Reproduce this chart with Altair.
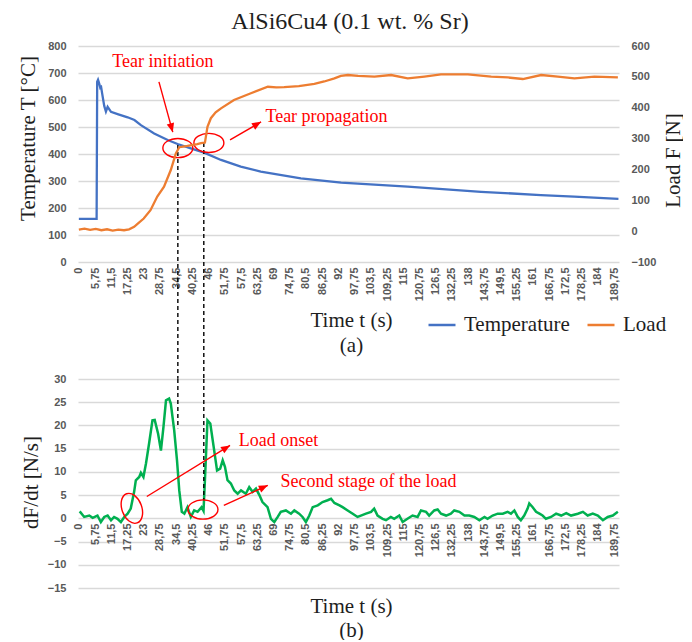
import math
import altair as alt
import pandas as pd

# ---------------- data ----------------
title_text = "AlSi6Cu4 (0.1 wt. % Sr)"

x_tick_values = [0, 5.75, 11.5, 17.25, 23, 28.75, 34.5, 40.25, 46, 51.75, 57.5,
                 63.25, 69, 74.75, 80.5, 86.25, 92, 97.75, 103.5, 109.25, 115,
                 120.75, 126.5, 132.25, 138, 143.75, 149.5, 155.25, 161, 166.75,
                 172.5, 178.25, 184, 189.75]
temp_ticks = [0, 100, 200, 300, 400, 500, 600, 700, 800]
load_ticks = [-100, 0, 100, 200, 300, 400, 500, 600]
dfdt_ticks = [-15, -10, -5, 0, 5, 10, 15, 20, 25, 30]

series_names = ["Temperature", "Load"]

temp_t = [0, 6.3, 6.5, 6.8, 7.2, 7.6, 7.9, 8.3, 9.0, 9.6, 10.2, 11.4, 14.0, 17.3,
          19.7, 22.0, 26.7, 31.5, 35.0, 39.7, 44.4, 50.4, 57.4, 64.5, 78.7, 93.0,
          116.6, 142.6, 163.8, 175.6, 191.3]
temp_T = [160, 160, 668, 675, 662, 645, 648, 622, 578, 557, 575, 556, 547, 536,
          526, 507, 476, 452, 437, 421, 405, 378, 353, 335, 310, 294,
          279, 260, 248, 242, 234]

load_t = [0, 2, 4, 6, 8, 10, 12, 14, 16, 17.8, 19.6, 21.0, 23.0, 25.4, 27.8, 30.2,
          32.6, 34.4, 35.6, 37.0, 38.5, 40.0, 42.0, 43.3, 44.7, 45.6, 46.8, 48.5,
          50.4, 55.0, 61.0, 67.0, 70.0, 72.8, 78.0, 83.5, 87.0, 90.6, 92.9, 95.4,
          99.0, 104.8, 110.7, 116.6, 122.5, 128.4, 137.9, 146.2, 152.1, 157.4,
          163.9, 169.8, 175.7, 182.8, 191.1]
load_F = [5, 8, 4, 7, 3, 6, 2, 5, 3, 6, 14, 25, 41, 68, 112, 144,
          198, 252, 272, 274, 276, 279, 282, 285, 287, 338, 366, 385,
          398, 425, 447, 468, 466, 467, 470, 477, 485, 495, 503, 506,
          503, 501, 506, 495, 501, 508, 508, 501, 498, 493,
          506, 501, 495, 501, 498]

dfdt_t = [0.3, 1.9, 3.7, 4.9, 6.6, 7.8, 9.0, 10.2, 11.4, 12.5,
          13.7, 14.9, 16.1, 17.3, 18.4, 19.6, 20.2, 21.4, 22.0, 22.9,
          23.8, 24.9, 26.1, 26.9, 28.1, 29.1, 30.0, 30.9, 32.0, 32.6,
          33.8, 34.8, 35.6, 36.5, 37.4, 38.5, 39.7, 40.9, 42.1, 43.5,
          44.2, 44.7, 45.6, 46.6, 47.8, 49.0, 50.1, 51.0, 51.8, 52.7,
          53.9, 55.1, 56.3, 57.5, 59.2, 60.4, 61.6, 62.8, 64.0, 65.1,
          66.9, 68.1, 69.3, 70.5, 71.6, 73.4, 75.2, 76.4, 78.1, 79.3,
          80.5, 81.7, 82.9, 84.7, 86.4, 88.2, 89.4, 90.6, 92.4, 93.5,
          95.3, 97.1, 98.8, 100.0, 101.8, 103.6, 104.7, 105.9, 107.7, 108.9,
          110.6, 111.8, 113.6, 114.8, 116.5, 118.3, 120.1, 121.3, 123.1, 124.2,
          126.0, 127.2, 128.4, 130.2, 131.9, 133.1, 134.9, 136.7, 138.4, 140.2,
          142.0, 143.8, 144.9, 146.7, 148.5, 150.3, 152.0, 153.2, 154.4, 155.6,
          156.7, 157.9, 159.1, 159.7, 160.9, 162.1, 163.3, 164.4, 165.6, 167.4,
          169.2, 171.0, 172.8, 174.5, 176.9, 178.7, 180.4, 182.2, 184.0, 185.8,
          187.5, 189.3, 191.1]
dfdt_v = [1.5, 0.3, 0.6, 0.1, 0.6, -0.8, 0.3, 0.6, -0.4, 0.3,
          -0.1, -0.8, 0.3, 1.0, 2.1, 5.7, 8.2, 8.9, 9.8, 8.9,
          11.8, 16.1, 21.1, 21.2, 18.2, 14.6, 19.7, 25.4, 25.8, 24.7,
          19.0, 12.5, 6.0, 1.4, 1.0, 2.4, 0.3, 1.7, 1.4, 2.4,
          1.6, 8.2, 21.1, 20.4, 15.4, 10.3, 10.7, 12.5, 11.1, 8.2,
          7.5, 6.0, 5.3, 6.0, 5.3, 6.7, 5.7, 6.4, 5.0, 3.5,
          2.4, -0.1, -0.8, 0.3, 1.4, 1.7, 1.0, 1.7, 1.0, 0.3,
          -0.8, 0.6, 2.4, 2.8, 3.5, 3.9, 4.2, 3.3, 2.8, 2.4,
          1.7, 1.0, 0.3, 0.6, 1.0, 1.4, 2.1, 0.6, -0.1, -0.4,
          0.3, -0.1, 0.6, -0.8, -0.1, 0.6, 0.3, 1.7, 1.4, 0.6,
          1.7, 1.9, 1.0, 0.6, 1.0, 1.7, 1.4, 0.6, 0.6, 0.3,
          -0.4, 0.3, -0.1, 0.6, 1.0, 1.0, 1.4, 1.0, 1.7, 0.3,
          -0.4, 0.6, 2.1, 3.2, 2.4, 1.4, 1.0, 0.6, -0.1, 0.3,
          1.0, 0.6, 1.1, 0.6, 1.0, 1.4, 0.6, 1.0, 0.6, -0.4,
          0.3, 0.6, 1.4]

# annotations (data units)
top_labels = ["Tear initiation", "Tear propagation"]
top_label_t = [29.8, 87.8]
top_label_T = [740, 537]
top_arrow_t1 = [28.4, 53.6]
top_arrow_T1 = [667, 452]
top_arrow_t2 = [33.3, 64.6]
top_arrow_T2 = [481, 519]
top_ellipse_t = [35.1, 46.1]
top_ellipse_T = [422, 441]
top_ellipse_w = [30, 30]
top_ellipse_rot = [0, 0]

bot_labels = ["Load onset", "Second stage of the load"]
bot_label_t = [70.8, 102.7]
bot_label_v = [16.6, 7.75]
bot_arrow_t1 = [24.1, 51.4]
bot_arrow_v1 = [4.7, 2.8]
bot_arrow_t2 = [53.6, 67.0]
bot_arrow_v2 = [15.7, 7.1]
bot_ellipse_t = [18.8, 44.0]
bot_ellipse_v = [2.15, 1.9]
bot_ellipse_w = [31, 30]
bot_ellipse_rot = [70, 0]

dash_t = [35.1, 44.3]
dash_top_T = [433, 441]
dash_top_T_end = [-436, -436]
dash_bot_v_start = [30, 30]
dash_bot_v = [19.4, 3.9]

# ---------------- styling ----------------
SERIF = "Liberation Serif"
SANS = "Liberation Sans"
BLUE, ORANGE, GREEN, RED = "#4472C4", "#ED7D31", "#00B050", "#FF0000"
GRID, TICK, INK = "#D9D9D9", "#595959", "#1E1E1E"

W, H_TOP, H_BOT = 541, 216, 209
X_DOMAIN = [-0.3, 191.5]
T_DOMAIN = [0, 800]
F_DOMAIN = [-100, 600]
V_DOMAIN = [-15, 30]
PX_S = W / (X_DOMAIN[1] - X_DOMAIN[0])
PX_T = H_TOP / (T_DOMAIN[1] - T_DOMAIN[0])
PX_V = H_BOT / (V_DOMAIN[1] - V_DOMAIN[0])

ELLIPSE = "M -1 0 A 1 0.64 0 1 1 1 0 A 1 0.64 0 1 1 -1 0 Z"
ARROWHEAD = "M 0 0 L 0.42 1 L -0.42 1 Z"

xs = alt.Scale(domain=X_DOMAIN, nice=False, zero=False)
ts = alt.Scale(domain=T_DOMAIN, nice=False, zero=False)
fs = alt.Scale(domain=F_DOMAIN, nice=False, zero=False)
vs = alt.Scale(domain=V_DOMAIN, nice=False, zero=False)

label_expr = "replace(toString(datum.value), '.', ',')"
lab = dict(labelFont=SANS, labelFontSize=11, labelFontWeight="bold", labelColor=TICK)
ttl = dict(titleFont=SERIF, titleFontSize=21, titleFontWeight="normal", titleColor=INK)


def x_axis(offset, title_y, sub, line_h):
    return alt.Axis(values=x_tick_values, labelExpr=label_expr, labelAngle=270,
                    labelPadding=5, labelOverlap=False, labelFlush=False,
                    ticks=False, domain=False, grid=False, offset=offset,
                    title=["Time t (s)", sub], titleLineHeight=line_h,
                    titleX=273, titleY=title_y, titleBaseline="top",
                    **lab, **ttl)


x_axis_top = x_axis(0, 47, "(a)", 25)
x_axis_bot = x_axis(-70, 77, "(b)", 24)

y_axis_left = alt.Axis(values=temp_ticks, grid=True, gridColor=GRID, gridWidth=1.3,
                       domain=False, ticks=False, labelPadding=12,
                       title="Temperature T [°C]", titleAngle=270, titleX=-50,
                       titleY=92, titleBaseline="middle", **lab, **ttl)
y_axis_right = alt.Axis(orient="right", values=load_ticks, grid=False, domain=False,
                        ticks=False, labelPadding=12, title="Load F [N]",
                        titleAngle=270, titleX=54, titleY=114,
                        titleBaseline="middle", **lab, **ttl)
y_axis_bot = alt.Axis(values=dfdt_ticks, grid=True, gridColor=GRID, gridWidth=1.3,
                      domain=False, ticks=False, labelPadding=12,
                      title="dF/dt [N/s]", titleAngle=270, titleX=-47, titleY=103,
                      titleBaseline="middle", **lab, **ttl)

legend = alt.Legend(orient="none", legendX=349, legendY=264, direction="horizontal",
                    title=None, symbolType="stroke", symbolSize=729,
                    symbolStrokeWidth=2.5, labelFont=SERIF, labelFontSize=21,
                    labelColor=INK, labelOffset=7, columnPadding=12, padding=0)
color = alt.Color("series:N", scale=alt.Scale(domain=series_names, range=[BLUE, ORANGE]),
                  legend=legend)


def head_angle(x1, y1, x2, y2, ppy):
    dx = (x1 - x2) * PX_S
    dy = -(y1 - y2) * ppy
    return math.degrees(math.atan2(-dx, dy)) % 360


def annotation_layers(scale, ppy, xaxis, yaxis, lt, lv, labels, at1, av1, at2, av2,
                      et, ev, ew, erot, dt, dv1, dv2):
    X = lambda f: alt.X(f"{f}:Q", scale=xs, axis=xaxis)
    Y = lambda f: alt.Y(f"{f}:Q", scale=scale, axis=yaxis)
    dash = alt.Chart(pd.DataFrame({"t": dt, "val": dv1, "v2": dv2})).mark_rule(
        color="black", strokeDash=[4, 3], strokeWidth=1.4).encode(
        x=X("t"), y=Y("val"), y2="v2:Q")
    arrows_df = pd.DataFrame({"t": at1, "val": av1, "t2": at2, "v2": av2})
    arrows_df["ang"] = [head_angle(a, b, c, d, ppy) for a, b, c, d in zip(at1, av1, at2, av2)]
    arrows = alt.Chart(arrows_df).mark_rule(color=RED, strokeWidth=1.4).encode(
        x=X("t"), y=Y("val"), x2="t2:Q", y2="v2:Q")
    heads_df = pd.DataFrame({"t": at2, "val": av2, "ang": arrows_df["ang"]})
    heads = alt.Chart(heads_df).mark_point(shape=ARROWHEAD, filled=True, opacity=1,
                                           color=RED, size=324, strokeWidth=0).encode(
        x=X("t"), y=Y("val"), angle=alt.Angle("ang:Q", scale=None))
    ell = alt.Chart(pd.DataFrame({"t": et, "val": ev, "sz": [w * w for w in ew],
                                  "rot": erot})).mark_point(
        shape=ELLIPSE, filled=False, opacity=1, color=RED, strokeWidth=1.4).encode(
        x=X("t"), y=Y("val"), size=alt.Size("sz:Q", scale=None),
        angle=alt.Angle("rot:Q", scale=None))
    text = alt.Chart(pd.DataFrame({"t": lt, "val": lv, "label": labels})).mark_text(
        font=SERIF, fontSize=18, color=RED, align="center", baseline="middle").encode(
        x=X("t"), y=Y("val"), text="label:N")
    return [dash, arrows, heads, ell, text]


# ---------------- top chart ----------------
temp_df = pd.DataFrame({"t": temp_t, "val": temp_T, "series": series_names[0]})
load_df = pd.DataFrame({"t": load_t, "val": load_F, "series": series_names[1]})

temp_line = alt.Chart(temp_df).mark_line(strokeWidth=2.3).encode(
    x=alt.X("t:Q", scale=xs, axis=x_axis_top),
    y=alt.Y("val:Q", scale=ts, axis=y_axis_left),
    color=color)
load_line = alt.Chart(load_df).mark_line(strokeWidth=2.3).encode(
    x=alt.X("t:Q", scale=xs, axis=x_axis_top),
    y=alt.Y("val:Q", scale=fs, axis=y_axis_right),
    color=color)

top_inner = alt.layer(temp_line, *annotation_layers(
    ts, PX_T, x_axis_top, y_axis_left, top_label_t, top_label_T, top_labels,
    top_arrow_t1, top_arrow_T1, top_arrow_t2, top_arrow_T2,
    top_ellipse_t, top_ellipse_T, top_ellipse_w, top_ellipse_rot,
    dash_t, dash_top_T, dash_top_T_end))
top = alt.layer(top_inner, load_line).resolve_scale(y="independent").properties(
    width=W, height=H_TOP)

# ---------------- bottom chart ----------------
dfdt_df = pd.DataFrame({"t": dfdt_t, "val": dfdt_v})
green_line = alt.Chart(dfdt_df).mark_line(strokeWidth=2.5, color=GREEN).encode(
    x=alt.X("t:Q", scale=xs, axis=x_axis_bot),
    y=alt.Y("val:Q", scale=vs, axis=y_axis_bot))

bottom = alt.layer(green_line, *annotation_layers(
    vs, PX_V, x_axis_bot, y_axis_bot, bot_label_t, bot_label_v, bot_labels,
    bot_arrow_t1, bot_arrow_v1, bot_arrow_t2, bot_arrow_v2,
    bot_ellipse_t, bot_ellipse_v, bot_ellipse_w, bot_ellipse_rot,
    dash_t, dash_bot_v_start, dash_bot_v)).properties(width=W, height=H_BOT)

chart = alt.vconcat(
    top, bottom, spacing=117, bounds="flush",
    title=alt.TitleParams(title_text, font=SERIF, fontSize=24, fontWeight="normal",
                          color=INK, anchor="middle", offset=6),
).properties(padding={"left": 9, "top": 2, "right": 0, "bottom": 0}).configure_view(
    stroke=None)

chart.save("out.html", embed_options={"renderer": "svg", "actions": False})
